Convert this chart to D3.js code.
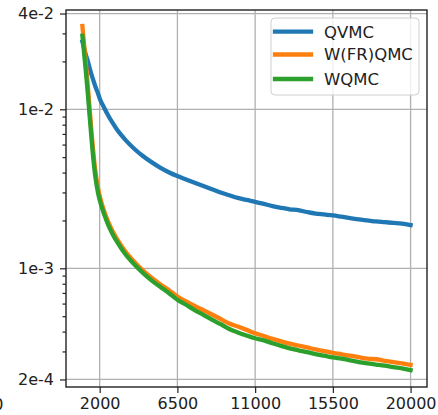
<!DOCTYPE html>
<html>
<head>
<meta charset="utf-8">
<script src="https://cdn.jsdelivr.net/npm/d3@7/dist/d3.min.js"></script>
<style>
  html, body { margin: 0; padding: 0; background: #fff; }
  svg { display: block; font-family: "DejaVu Sans", sans-serif; }
</style>
</head>
<body>
<svg id="chart" width="438" height="415"></svg>
<script>
// Iteration counts at which the error was recorded
const steps = [1000, 1100, 1200, 1300, 1400, 1500, 1600, 1750, 1900, 2000,
  2250, 2500, 2750, 3000, 3500, 4000, 4500, 5000, 5500, 6000, 6500, 7000,
  7500, 8000, 8500, 9000, 9500, 10000, 10500, 11000, 11500, 12000, 12500,
  13000, 13500, 14000, 14500, 15000, 15500, 16000, 16500, 17000, 17500,
  18000, 18500, 19000, 19500, 20000];

const qvmc = [2.66e-2, 2.42e-2, 2.20e-2, 2.03e-2, 1.85e-2, 1.69e-2, 1.56e-2,
  1.39e-2, 1.26e-2, 1.17e-2, 1.025e-2, 9.1e-3, 8.2e-3, 7.45e-3, 6.4e-3,
  5.65e-3, 5.08e-3, 4.65e-3, 4.30e-3, 4.02e-3, 3.80e-3, 3.62e-3, 3.45e-3,
  3.29e-3, 3.14e-3, 3.00e-3, 2.88e-3, 2.77e-3, 2.69e-3, 2.62e-3, 2.54e-3,
  2.46e-3, 2.40e-3, 2.35e-3, 2.32e-3, 2.26e-3, 2.21e-3, 2.18e-3, 2.15e-3,
  2.11e-3, 2.07e-3, 2.03e-3, 2.00e-3, 1.97e-3, 1.95e-3, 1.93e-3, 1.91e-3,
  1.87e-3];

const wfrqmc = [3.34e-2, 2.55e-2, 1.95e-2, 1.46e-2, 1.07e-2, 7.85e-3, 5.85e-3,
  4.1e-3, 3.22e-3, 2.86e-3, 2.30e-3, 1.95e-3, 1.71e-3, 1.53e-3, 1.27e-3,
  1.10e-3, 9.7e-4, 8.72e-4, 7.95e-4, 7.3e-4, 6.65e-4, 6.2e-4, 5.8e-4,
  5.45e-4, 5.12e-4, 4.80e-4, 4.50e-4, 4.30e-4, 4.10e-4, 3.90e-4, 3.75e-4,
  3.60e-4, 3.47e-4, 3.36e-4, 3.27e-4, 3.18e-4, 3.09e-4, 3.01e-4, 2.94e-4,
  2.88e-4, 2.82e-4, 2.76e-4, 2.70e-4, 2.68e-4, 2.62e-4, 2.57e-4, 2.52e-4,
  2.47e-4];

const wqmc = [2.90e-2, 2.24e-2, 1.73e-2, 1.30e-2, 9.6e-3, 7.08e-3, 5.31e-3,
  3.76e-3, 2.99e-3, 2.69e-3, 2.20e-3, 1.87e-3, 1.64e-3, 1.47e-3, 1.22e-3,
  1.06e-3, 9.35e-4, 8.4e-4, 7.65e-4, 7.0e-4, 6.35e-4, 5.9e-4, 5.45e-4,
  5.1e-4, 4.75e-4, 4.45e-4, 4.15e-4, 3.95e-4, 3.78e-4, 3.63e-4, 3.52e-4,
  3.38e-4, 3.25e-4, 3.14e-4, 3.05e-4, 2.97e-4, 2.89e-4, 2.82e-4, 2.75e-4,
  2.70e-4, 2.64e-4, 2.57e-4, 2.52e-4, 2.48e-4, 2.44e-4, 2.39e-4, 2.35e-4,
  2.29e-4];

const seriesNames = ["QVMC", "W(FR)QMC", "WQMC"];
const seriesColors = ["#1f77b4", "#ff7f0e", "#2ca02c"];

const xTicks = [2000, 6500, 11000, 15500, 20000];
const yTicks = [4e-2, 1e-2, 1e-3, 2e-4];
const yTickLabels = ["4e-2", "1e-2", "1e-3", "2e-4"];

const svg = d3.select("#chart");
const plotLeft = 66, plotRight = 427, plotTop = 10, plotBottom = 387;

const x = d3.scaleLinear().domain([50, 20950]).range([plotLeft, plotRight]);
const y = d3.scaleLog().domain([1.793e-4, 4.21e-2]).range([plotBottom, plotTop]);

// minor log ticks (2..9 x 10^k) that fall inside the domain
const minorTicks = [];
for (let k = -4; k <= -2; k++) {
  for (let m = 2; m <= 9; m++) {
    const v = m * Math.pow(10, k);
    if (v > y.domain()[0] && v < y.domain()[1] &&
        !yTicks.some(t => Math.abs(t - v) / v < 1e-6)) minorTicks.push(v);
  }
}

// grid
const grid = svg.append("g").attr("stroke", "#b0b0b0").attr("stroke-width", 1.3);
grid.selectAll("line.gx").data(xTicks).join("line")
  .attr("x1", d => x(d)).attr("x2", d => x(d))
  .attr("y1", plotTop).attr("y2", plotBottom);
grid.selectAll("line.gy").data(yTicks).join("line")
  .attr("y1", d => y(d)).attr("y2", d => y(d))
  .attr("x1", plotLeft).attr("x2", plotRight);

// series
const line = d3.line()
  .x((d, i) => x(steps[i]))
  .y(d => y(d))
  .curve(d3.curveMonotoneX);
[qvmc, wfrqmc, wqmc].forEach((vals, i) => {
  svg.append("path")
    .datum(vals)
    .attr("d", line)
    .attr("fill", "none")
    .attr("stroke", seriesColors[i])
    .attr("stroke-width", 4.3)
    .attr("stroke-linecap", "square")
    .attr("stroke-linejoin", "round");
});

// axes
const xAxis = d3.axisBottom(x).tickValues(xTicks).tickSize(6).tickPadding(5)
  .tickFormat(d3.format("d"));
const gx = svg.append("g").attr("transform", `translate(0,${plotBottom})`).call(xAxis);

const yAxis = d3.axisLeft(y).tickValues(yTicks).tickSize(6).tickPadding(6)
  .tickFormat((d, i) => yTickLabels[i]);
const gy = svg.append("g").attr("transform", `translate(${plotLeft},0)`).call(yAxis);

const yMinor = d3.axisLeft(y).tickValues(minorTicks).tickSize(3.5).tickFormat("");
const gym = svg.append("g").attr("transform", `translate(${plotLeft},0)`).call(yMinor);

[gx, gy, gym].forEach(g => {
  g.select(".domain").remove();
  g.selectAll(".tick line").attr("stroke", "#222").attr("stroke-width", 1.2);
  g.selectAll(".tick text").attr("fill", "#222")
    .style("font-size", "16px").style("font-family", "DejaVu Sans, sans-serif");
});

// frame
svg.append("rect")
  .attr("x", plotLeft).attr("y", plotTop)
  .attr("width", plotRight - plotLeft).attr("height", plotBottom - plotTop)
  .attr("fill", "none").attr("stroke", "#222").attr("stroke-width", 1.4);

// legend
const lg = svg.append("g");
lg.append("rect")
  .attr("x", 271).attr("y", 18).attr("width", 148).attr("height", 77)
  .attr("rx", 4).attr("fill", "#fff").attr("fill-opacity", 0.8)
  .attr("stroke", "#d0d0d0").attr("stroke-width", 1);
const rowY = [31.7, 54.5, 79];
seriesNames.forEach((name, i) => {
  lg.append("line")
    .attr("x1", 275).attr("x2", 311)
    .attr("y1", rowY[i]).attr("y2", rowY[i])
    .attr("stroke", seriesColors[i]).attr("stroke-width", 4.3)
    .attr("stroke-linecap", "square");
  lg.append("text")
    .attr("x", 324).attr("y", rowY[i]).attr("dy", "0.36em")
    .attr("fill", "#222").style("font-size", "16.5px")
    .text(name);
});

// edge of the neighbouring panel's x tick label
svg.append("text")
  .attr("x", 3.5).attr("y", 410).attr("text-anchor", "end")
  .attr("fill", "#222").style("font-size", "16px")
  .text("20000");
</script>
</body>
</html>
